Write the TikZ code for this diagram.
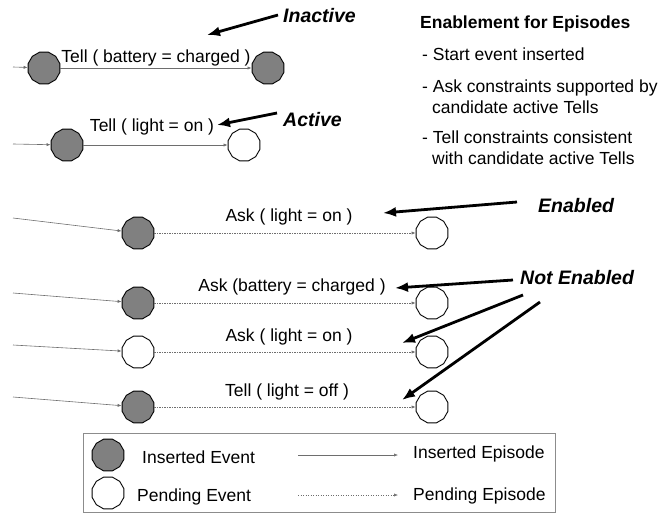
\documentclass[tikz,border=0pt]{standalone}
\usepackage{fontspec}
\setmainfont{Liberation Sans}
\usetikzlibrary{shapes.geometric,arrows.meta}
\definecolor{evfill}{RGB}{128,128,128}
\definecolor{epline}{RGB}{110,110,110}
\definecolor{boxline}{RGB}{140,140,140}
\begin{document}
\begin{tikzpicture}[x=1pt,y=-1pt,
  event/.style={regular polygon, regular polygon sides=12, minimum size=33pt,
    inner sep=0pt, draw=black, line width=0.9pt},
  inserted/.style={event, fill=evfill},
  pending/.style={event, fill=white},
  episode/.style={draw=epline, line width=0.6pt, -{Latex[length=4pt,width=3.2pt]}},
  pendingep/.style={episode, dash pattern=on 1.3pt off 1.2pt},
  callout/.style={line width=2.8pt, -{Latex[length=13pt,width=10pt]}},
  lbl/.style={font=\fontsize{17.5}{20}\selectfont, inner sep=0pt, anchor=base},
  lblw/.style={lbl, anchor=base west},
  tag/.style={font=\fontsize{19.5}{22}\selectfont\bfseries\itshape, inner sep=0pt, anchor=base west},
]
\useasboundingbox (0,0) rectangle (663,514);

% ---- events ----
\node[inserted] (r1a) at (44,68) {};
\node[inserted] (r1b) at (268,68) {};
\node[inserted] (r2a) at (67,145) {};
\node[pending]  (r2b) at (244,145) {};
\node[inserted] (r3a) at (138,233) {};
\node[pending]  (r3b) at (432,233) {};
\node[inserted] (r4a) at (138,303) {};
\node[pending]  (r4b) at (432,303) {};
\node[pending]  (r5a) at (138,352) {};
\node[pending]  (r5b) at (432,352) {};
\node[inserted] (r6a) at (138,407) {};
\node[pending]  (r6b) at (432,407) {};

% ---- loose ends of incoming episodes ----
\coordinate (s1) at (13,67);
\coordinate (s2) at (13,144);
\coordinate (s3) at (13,218);
\coordinate (s4) at (13,293);
\coordinate (s5) at (13,345);
\coordinate (s6) at (13,397);

\foreach \i in {1,...,6} \draw[episode] (s\i) -- (r\i a);

% ---- episodes ----
\draw[episode] (r1a) -- (r1b);
\draw[episode] (r2a) -- (r2b);
\draw[pendingep] (r3a) -- (r3b);
\draw[pendingep] (r4a) -- (r4b);
\draw[pendingep] (r5a) -- (r5b);
\draw[pendingep] (r6a) -- (r6b);

% ---- episode labels ----
\node[lbl] (l1) at (156,62) {Tell ( battery = charged )};
\node[lbl] (l2) at (152,131) {Tell ( light = on )};
\node[lbl] (l3) at (289,221) {Ask ( light = on )};
\node[lbl] (l4) at (292,291) {Ask (battery = charged )};
\node[lbl] (l5) at (289,341) {Ask ( light = on )};
\node[lbl] (l6) at (287,396) {Tell ( light = off )};

% ---- status tags and pointers ----
\node[tag] (inactive) at (283,22) {Inactive};
\node[tag] (active) at (283,126) {Active};
\node[tag] (enabled) at (538,212) {Enabled};
\node[tag] (notenabled) at (520,284) {Not Enabled};

\coordinate (p1a) at (278,15);  \coordinate (p1b) at (207,35);
\coordinate (p2a) at (277,113); \coordinate (p2b) at (217,125);
\coordinate (p3a) at (517,202); \coordinate (p3b) at (383,213);
\coordinate (p4a) at (513,280); \coordinate (p4b) at (395,288);
\coordinate (p5a) at (523,295); \coordinate (p5b) at (402,343);
\coordinate (p6a) at (540,302); \coordinate (p6b) at (402,400);
\foreach \i in {1,...,6} \draw[callout] (p\i a) -- (p\i b);

% ---- enablement conditions ----
\node[lblw, font=\fontsize{17.5}{20}\selectfont\bfseries] (hdr) at (420,28) {Enablement for Episodes};
\node[lblw] (c1) at (422,60) {- Start event inserted};
\node[lblw] (c2) at (422,92) {- Ask constraints supported by};
\node[lblw] (c2b) at (432,113) {candidate active Tells};
\node[lblw] (c3) at (422,143) {- Tell constraints consistent};
\node[lblw] (c3b) at (432,164) {with candidate active Tells};

% ---- legend ----
\draw[boxline, line width=0.9pt] (83,433) rectangle (555,512);
\node[inserted] (kins) at (108,455) {};
\node[pending]  (kpen) at (108,493) {};
\node[lblw] (kinsl) at (142,463) {Inserted Event};
\node[lblw] (kpenl) at (137,501) {Pending Event};
\coordinate (ka) at (298,455); \coordinate (kb) at (398,455);
\coordinate (kc) at (298,495); \coordinate (kd) at (398,495);
\draw[episode] (ka) -- (kb);
\draw[pendingep] (kc) -- (kd);
\node[lblw] (kepi) at (413,458) {Inserted Episode};
\node[lblw] (kepp) at (413,500) {Pending Episode};
\end{tikzpicture}
\end{document}
